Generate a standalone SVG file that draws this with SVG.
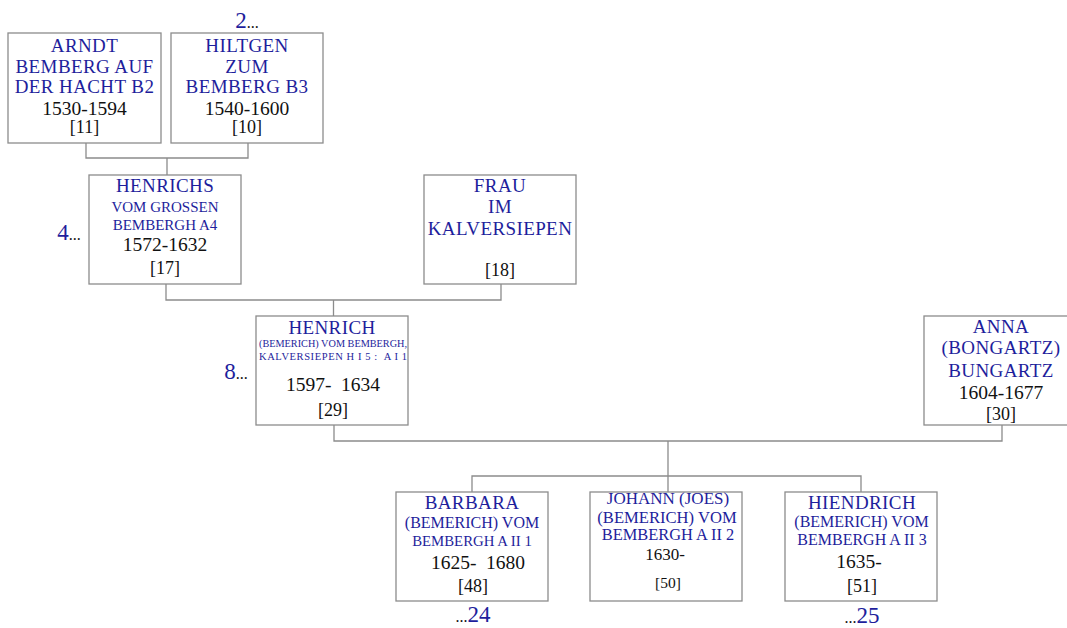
<svg xmlns="http://www.w3.org/2000/svg" width="1067" height="628" viewBox="0 0 1067 628">
<style>
.box{fill:#fff;stroke:#8c8c8c;stroke-width:1.3}
.ln{fill:none;stroke:#8c8c8c;stroke-width:1.3}
text{font-family:"Liberation Serif","Times New Roman",serif;text-anchor:middle}
.nm{fill:#1e1e9c;font-size:19px;letter-spacing:0.4px}
.sb{fill:#1e1e9c;font-size:16px}
.tn{fill:#1e1e9c;font-size:10px}
.dt{fill:#111;font-size:19.5px}
.rf{fill:#111;font-size:18px}
.gn{fill:#1e1e9c;font-size:23px}
.dots{fill:#111;font-size:16px}
</style>
<rect width="1067" height="628" fill="#fff"/>
<g id="connectors">
<path class="ln" d="M86,143 V158 H248 V143 M167,158 V175"/>
<path class="ln" d="M166,284 V300 H501 V284 M333.5,300 V316"/>
<path class="ln" d="M334,425 V441 H1002 V425 M668,441 V492"/>
<path class="ln" d="M472,492 V476 H861 V492"/>
</g>
<g id="n11">
<rect class="box" x="8" y="33" width="153" height="110"/>
<text class="nm" x="84.5" y="51.5">ARNDT</text>
<text class="nm" x="84.5" y="72.5">BEMBERG AUF</text>
<text class="nm" x="84.5" y="93">DER HACHT B2</text>
<text class="dt" x="84.5" y="115">1530-1594</text>
<text class="rf" x="84.5" y="133">[11]</text>
</g>
<g id="n10">
<rect class="box" x="171" y="33" width="152" height="110"/>
<text class="nm" x="247" y="51.5">HILTGEN</text>
<text class="nm" x="247" y="72.5">ZUM</text>
<text class="nm" x="247" y="93">BEMBERG B3</text>
<text class="dt" x="247" y="115">1540-1600</text>
<text class="rf" x="247" y="133">[10]</text>
<text x="247" y="28"><tspan class="gn">2</tspan><tspan class="dots">...</tspan></text>
</g>
<g id="n17">
<rect class="box" x="89" y="175" width="152" height="109"/>
<text class="nm" x="165" y="192">HENRICHS</text>
<text class="sb" x="165" y="211.5" style="font-size:15px">VOM GROSSEN</text>
<text class="sb" x="165" y="229.5" style="font-size:15px">BEMBERGH A4</text>
<text class="dt" x="165" y="251">1572-1632</text>
<text class="rf" x="165" y="274">[17]</text>
<text x="69" y="240"><tspan class="gn">4</tspan><tspan class="dots">...</tspan></text>
</g>
<g id="n18">
<rect class="box" x="424" y="175" width="152" height="109"/>
<text class="nm" x="500" y="192">FRAU</text>
<text class="nm" x="500" y="213">IM</text>
<text class="nm" x="500" y="234.5">KALVERSIEPEN</text>
<text class="rf" x="500" y="275.5">[18]</text>
</g>
<g id="n29">
<rect class="box" x="256" y="316" width="152" height="109"/>
<text class="nm" x="332" y="333.5">HENRICH</text>
<text class="tn" x="333" y="346.5" textLength="148" lengthAdjust="spacingAndGlyphs">(BEMERICH) VOM BEMBERGH,</text>
<text class="tn" x="333" y="360" textLength="148" lengthAdjust="spacing" xml:space="preserve" style="font-size:10.5px">KALVERSIEPEN H I 5 :  A I 1</text>
<text class="dt" x="333" y="391" xml:space="preserve">1597-  1634</text>
<text class="rf" x="333" y="415.5">[29]</text>
<text x="236" y="379"><tspan class="gn">8</tspan><tspan class="dots">...</tspan></text>
</g>
<g id="n30">
<rect class="box" x="924" y="316" width="152" height="109"/>
<text class="nm" x="1001" y="333">ANNA</text>
<text class="nm" x="1001" y="354">(BONGARTZ)</text>
<text class="nm" x="1001" y="376.5">BUNGARTZ</text>
<text class="dt" x="1001" y="399">1604-1677</text>
<text class="rf" x="1001" y="420">[30]</text>
</g>
<g id="n48">
<rect class="box" x="396" y="492" width="152" height="109"/>
<text class="nm" x="472" y="509">BARBARA</text>
<text class="sb" x="472" y="527.5">(BEMERICH) VOM</text>
<text class="sb" x="472" y="546" style="font-size:14.8px">BEMBERGH A II 1</text>
<text class="dt" x="478" y="568.5" xml:space="preserve">1625-  1680</text>
<text class="rf" x="473" y="591.5">[48]</text>
<text x="473" y="622"><tspan class="dots">...</tspan><tspan class="gn">24</tspan></text>
</g>
<g id="n50">
<rect class="box" x="590" y="492" width="152" height="109"/>
<text class="sb" x="668" y="504" style="font-size:17px">JOHANN (JOES)</text>
<text class="sb" x="667" y="522.5" style="font-size:16.6px">(BEMERICH) VOM</text>
<text class="sb" x="668" y="540" style="font-size:16.4px">BEMBERGH A II 2</text>
<text class="dt" x="665" y="560" style="font-size:17px">1630-</text>
<text class="rf" x="668" y="588" style="font-size:15.5px">[50]</text>
</g>
<g id="n51">
<rect class="box" x="785" y="492" width="152" height="109"/>
<text class="nm" x="862" y="509">HIENDRICH</text>
<text class="sb" x="861.5" y="526.5">(BEMERICH) VOM</text>
<text class="sb" x="862" y="545">BEMBERGH A II 3</text>
<text class="dt" x="859" y="567.5">1635-</text>
<text class="rf" x="862" y="591.5">[51]</text>
<text x="862" y="623"><tspan class="dots">...</tspan><tspan class="gn">25</tspan></text>
</g>
</svg>
